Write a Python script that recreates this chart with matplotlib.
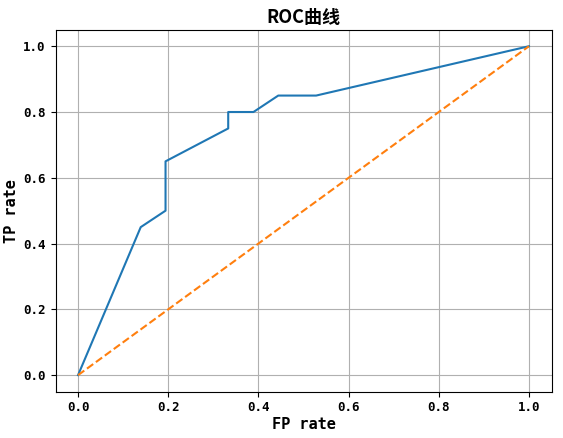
import matplotlib
matplotlib.use("Agg")
import matplotlib.pyplot as plt

fpr = [0.0, 0.139, 0.194, 0.194, 0.333, 0.333, 0.389, 0.444, 0.528, 1.0]
tpr = [0.0, 0.45, 0.5, 0.65, 0.75, 0.8, 0.8, 0.85, 0.85, 1.0]
diag = [0.0, 1.0]
ticks = [0, 0.2, 0.4, 0.6, 0.8, 1.0]

plt.rcParams['font.family'] = ['DejaVu Sans Mono', 'Noto Sans CJK SC']
plt.rcParams['font.weight'] = 'bold'

fig = plt.figure(figsize=(5.63, 4.38), dpi=100)
ax = fig.add_axes([0.0986, 0.106, 0.881, 0.826])
ax.plot(fpr, tpr, color='#1f77b4', lw=1.5)
ax.plot(diag, diag, color='#ff7f0e', ls='--', lw=1.5)
ax.grid(True, color='#b0b0b0', lw=0.8)
ax.set_xticks(ticks)
ax.set_yticks(ticks)
ax.tick_params(labelsize=9)
for lab in ax.get_xticklabels() + ax.get_yticklabels():
    lab.set_fontweight('bold')
ax.set_xlabel('FP rate', fontsize=11, fontweight='bold', labelpad=2)
ax.set_ylabel('TP rate', fontsize=11, fontweight='bold', labelpad=3)
ax.set_title('ROC曲线', fontsize=13, fontweight='bold', family=['Noto Sans CJK SC'], pad=5)
fig.savefig('out.png', dpi=100)
